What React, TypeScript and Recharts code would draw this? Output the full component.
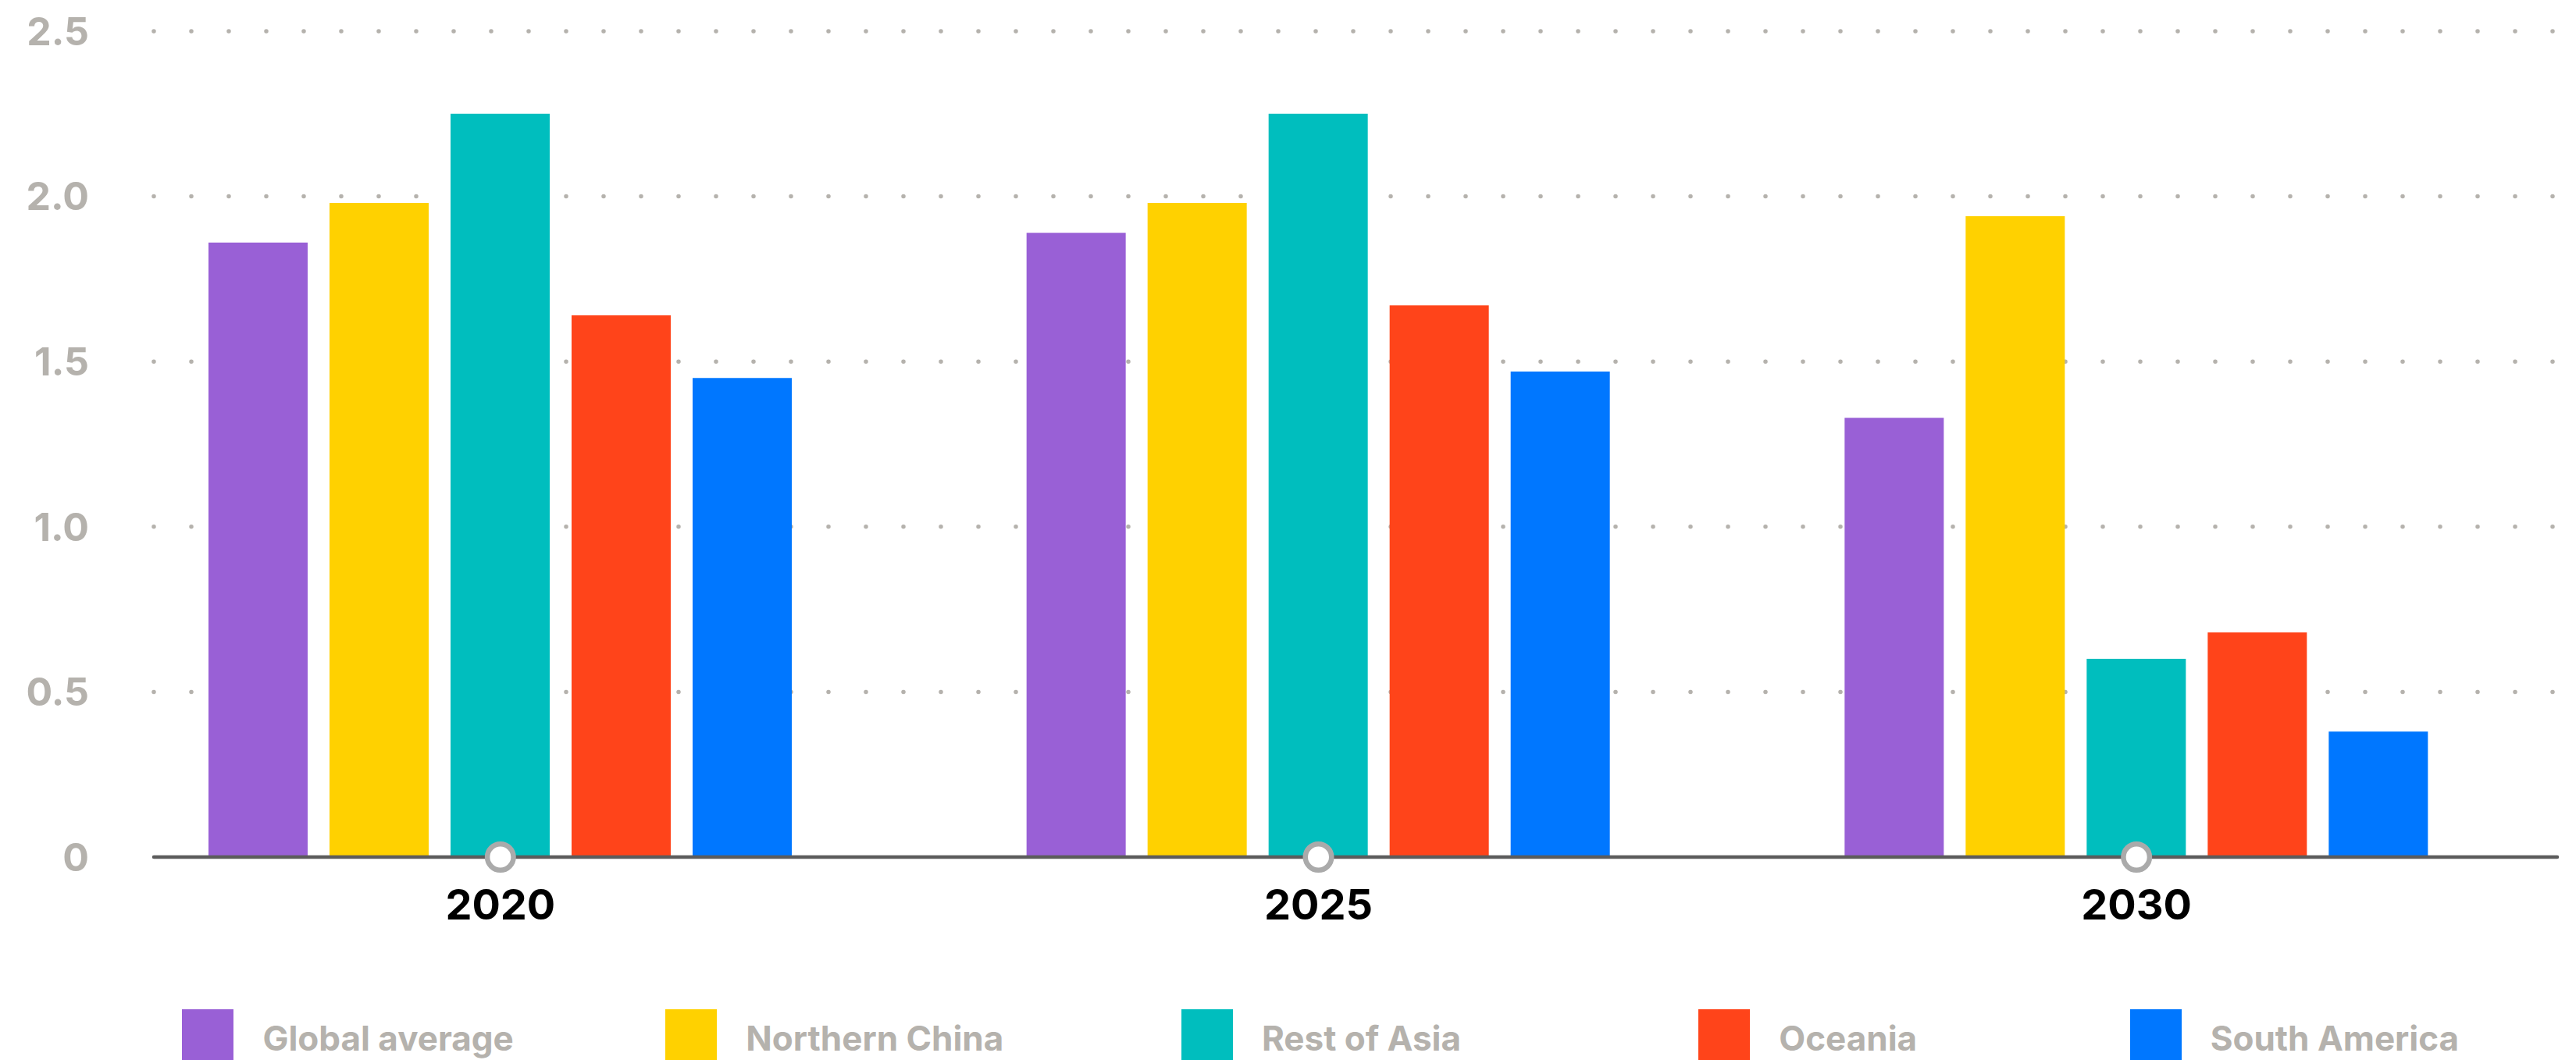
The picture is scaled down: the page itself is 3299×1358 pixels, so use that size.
import { BarChart, Bar, XAxis, YAxis, CartesianGrid, Legend, ReferenceDot } from 'recharts';

const years = ['2020', '2025', '2030'];
const globalAverage = [1.86, 1.89, 1.33];
const northernChina = [1.98, 1.98, 1.94];
const restOfAsia = [2.25, 2.25, 0.6];
const oceania = [1.64, 1.67, 0.68];
const southAmerica = [1.45, 1.47, 0.38];
const yTicks = [0, 0.5, 1, 1.5, 2, 2.5];

const series = [
  { key: 'globalAverage', name: 'Global average', color: '#9960D6', values: globalAverage },
  { key: 'northernChina', name: 'Northern China', color: '#FFD100', values: northernChina },
  { key: 'restOfAsia', name: 'Rest of Asia', color: '#00BEBE', values: restOfAsia },
  { key: 'oceania', name: 'Oceania', color: '#FF441A', values: oceania },
  { key: 'southAmerica', name: 'South America', color: '#0077FF', values: southAmerica },
];

const data = years.map((year, i) => {
  const row: Record<string, string | number> = { year };
  series.forEach((s) => {
    row[s.key] = s.values[i];
  });
  return row;
});

const FONT = 'Inter, "Noto Sans", sans-serif';
const MUTED = '#b5b2ad';
const CHART_W = 3299;
const CHART_H = 1358;
const PLOT_BOTTOM = 1098;

function YearTick(props: any) {
  const { x, y, payload } = props;
  return (
    <text x={x} y={y} dy="0.71em" textAnchor="middle" fontFamily={FONT} fontSize={54} fontWeight={700} fill="#000">
      {payload.value}
    </text>
  );
}

function DottedLine(props: any) {
  const { x1, y1, x2, y2 } = props;
  // the zero line is the axis itself
  if (Math.abs(y1 - PLOT_BOTTOM) < 4) return <g />;
  return (
    <line
      x1={x1}
      y1={y1}
      x2={x2}
      y2={y2}
      stroke={MUTED}
      strokeWidth={5.5}
      strokeLinecap="round"
      strokeDasharray="0 48"
    />
  );
}

// legend keeps series order (recharts sorts payload by name otherwise)
function LegendContent() {
  return (
    <div style={{ display: 'flex', width: '100%' }}>
      {series.map((s) => (
        <div key={s.key} style={{ flex: 1, display: 'flex', justifyContent: 'center', alignItems: 'center' }}>
          <span style={{ width: 66, height: 66, background: s.color, display: 'inline-block', marginRight: 37 }} />
          <span style={{ fontFamily: FONT, fontSize: 44, fontWeight: 700, color: MUTED, lineHeight: 1, marginTop: 8 }}>
            {s.name}
          </span>
        </div>
      ))}
    </div>
  );
}

export default function App() {
  return (
    <div style={{ position: 'absolute', left: 0, top: 0, width: CHART_W, height: CHART_H, overflow: 'hidden', background: '#fff' }}>
      <BarChart
        width={CHART_W}
        height={CHART_H}
        data={data}
        margin={{ top: 40, right: 24, bottom: 160, left: 0 }}
        barSize={127}
        barGap={28}
      >
        <CartesianGrid vertical={false} horizontal={(p: any) => <DottedLine {...p} />} />
        <XAxis
          dataKey="year"
          height={100}
          interval={0}
          padding={{ left: -80, right: 15 }}
          axisLine={{ stroke: '#5b5b5b', strokeWidth: 4.5, strokeLinecap: 'round' }}
          tickLine={false}
          tickSize={0}
          tickMargin={42}
          tick={<YearTick />}
        />
        <YAxis
          width={197}
          domain={[0, 2.5]}
          ticks={yTicks}
          interval={0}
          axisLine={false}
          tickLine={false}
          tickSize={0}
          tickMargin={83}
          tickFormatter={(v: number) => (v === 0 ? '0' : v.toFixed(1))}
          tick={{ fill: MUTED, fontSize: 50, fontWeight: 700, fontFamily: FONT }}
        />
        {series.map((s) => (
          <Bar key={s.key} dataKey={s.key} name={s.name} fill={s.color} legendType="square" isAnimationActive={false} />
        ))}
        <Legend
          layout="horizontal"
          verticalAlign="middle"
          align="center"
          content={<LegendContent />}
          wrapperStyle={{ top: 1293, left: 134, width: 3116 }}
        />
        {years.map((y) => (
          <ReferenceDot key={y} x={y} y={0} r={16.75} fill="#fff" stroke="#aaaaaa" strokeWidth={6.5} />
        ))}
      </BarChart>
    </div>
  );
}
